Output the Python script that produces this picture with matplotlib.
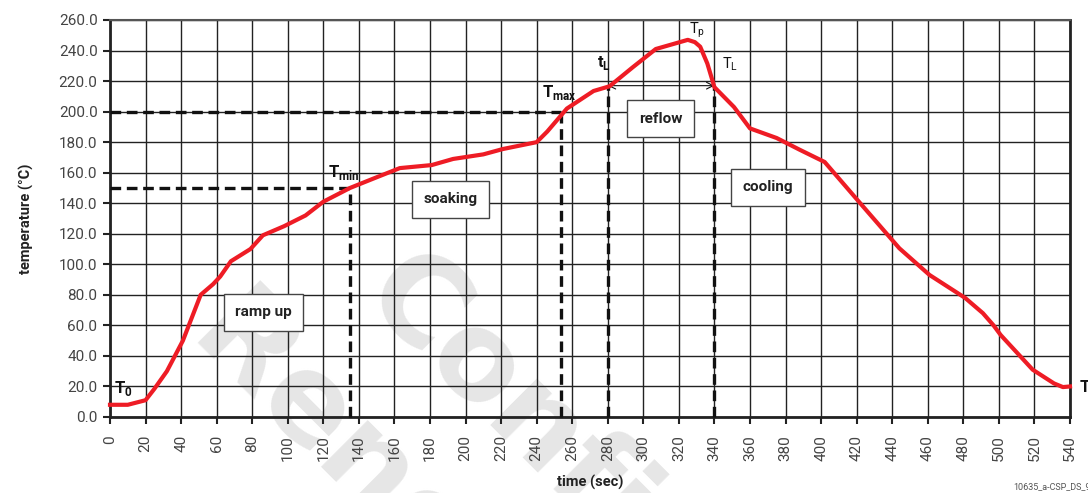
import numpy as np
import matplotlib
matplotlib.use("Agg")
import matplotlib.pyplot as plt

plt.rcParams['font.family'] = ['Roboto', 'DejaVu Sans']
plt.rcParams['mathtext.fontset'] = 'custom'
plt.rcParams['mathtext.rm'] = 'Roboto'
plt.rcParams['mathtext.bf'] = 'Roboto:bold'

# reflow profile
time_s = [0, 10, 20, 25, 32, 41, 46, 51, 58, 62, 68, 79, 86, 98, 110, 120, 135, 150,
          163, 181, 193, 210, 221, 240, 246, 257, 272, 281, 294, 307, 325, 329, 332,
          336, 340, 351, 360, 375, 388, 402, 422, 444, 461, 481, 491, 497, 501, 519,
          531, 536, 540]
temp_c = [8, 8, 11, 18.5, 30, 50, 65, 80, 87, 92, 102, 110, 119, 125, 132, 141, 150, 157,
          163, 165, 169, 172, 175.5, 180, 187, 202, 213.5, 216.6, 229, 241, 247, 245.5, 242.5,
          231.5, 216, 203, 189, 182.7, 175, 167, 140, 110.5, 93, 78, 68, 60, 53.7, 31,
          22, 19.6, 20]

t_min, T_min = 135, 150
t_max, T_max = 253.5, 200
t_L1, t_L2, T_L = 280, 340, 217

x_ticks = np.arange(0, 541, 20)
y_ticks = np.arange(0, 261, 20)

phase_names = ["ramp up", "soaking", "reflow", "cooling"]
phase_pos = [(86.4, 68.5), (191.8, 142.7), (309.6, 195.2), (370.1, 150.6)]

fig = plt.figure(figsize=(10.88, 4.93), dpi=100)
ax = fig.add_axes([110/1088, 1-417/493, 960/1088, 397/493])
ax.patch.set_alpha(0)

# watermark, behind everything
wm = dict(rotation=-45, rotation_mode='anchor', ha='left', va='baseline',
          fontsize=88, fontweight='bold', color='#e6e6e6', zorder=-5,
          family='DejaVu Sans')
fig.text(358/1088, 1-300/493, "Confidential", **wm)
fig.text(185/1088, 1-343/493, "Renesas", **wm)

ax.set_xlim(0, 540)
ax.set_ylim(0, 260)
ax.set_xticks(x_ticks)
ax.set_yticks(y_ticks)
ax.set_xticklabels([str(v) for v in x_ticks], rotation=90)
ax.set_yticklabels([f"{v:.1f}" for v in y_ticks])
ax.tick_params(axis='both', direction='out', length=5, width=1.5, color='#222222',
               labelsize=11, labelcolor='#444444', pad=4)
ax.tick_params(axis='x', pad=8)
ax.grid(True, color='#222222', lw=1.0, zorder=1)
for side in ['left', 'bottom', 'right']:
    ax.spines[side].set_linewidth(2)
    ax.spines[side].set_color('#222222')
ax.spines['top'].set_linewidth(1.5)
ax.spines['top'].set_color('#555555')

ax.set_xlabel("time (sec)", fontsize=10.5, fontweight='bold', color='#222222', labelpad=10)
ax.set_ylabel("temperature (°C)", fontsize=10.5, fontweight='bold', color='#222222', labelpad=18)

# dashed guide lines
dash = dict(color='#111111', lw=2.4, dashes=(3.2, 1.7), zorder=3, clip_on=False)
ax.plot([0, t_min], [T_min, T_min], **dash)
ax.plot([t_min, t_min], [0, T_min], **dash)
ax.plot([0, t_max], [T_max, T_max], **dash)
ax.plot([t_max, t_max], [0, T_max], **dash)
ax.plot([t_L1, t_L1], [0, T_L], **dash)
ax.plot([t_L2, t_L2], [0, T_L], **dash)

ax.annotate("", xy=(t_L2, T_L), xytext=(t_L1, T_L),
            arrowprops=dict(arrowstyle='<->', lw=0.8, color='#111111',
                            mutation_scale=12, shrinkA=0, shrinkB=0), zorder=4)

ax.plot(time_s, temp_c, color='#ee1c25', lw=3, solid_joinstyle='round', zorder=5,
        clip_on=False)

for name, (x, y) in zip(phase_names, phase_pos):
    ax.text(x, y, name, ha='center', va='center', fontsize=11, fontweight='bold',
            color='#222222', zorder=6,
            bbox=dict(boxstyle='square,pad=0.75', fc='white', ec='#444444', lw=1))

lab = dict(color='#111111', zorder=6, ha='left', va='baseline', clip_on=False)
ax.text(2.5, 15.5, r"$\mathbf{T}_\mathbf{0}$", fontsize=12, **lab)
ax.text(122.5, 157, r"$\mathbf{T}_\mathbf{min}$", fontsize=12, **lab)
ax.text(243, 209.5, r"$\mathbf{T}_\mathbf{max}$", fontsize=12, **lab)
ax.text(274, 229, r"$\mathbf{t}_\mathbf{L}$", fontsize=12, **lab)
ax.text(325.5, 251.5, r"$\mathrm{T}_\mathrm{p}$", fontsize=10.5, **lab)
ax.text(344, 228.5, r"$\mathrm{T}_\mathrm{L}$", fontsize=10.5, **lab)
ax.text(545, 16.4, r"$\mathbf{T}_\mathbf{f}$", fontsize=12, **lab)

fig.text(1013/1088, 1-489/493, "10635_a-CSP_DS_9_2_E", fontsize=6.5, color='#555555',
         ha='left', va='baseline')

fig.savefig("out.png", dpi=100)
